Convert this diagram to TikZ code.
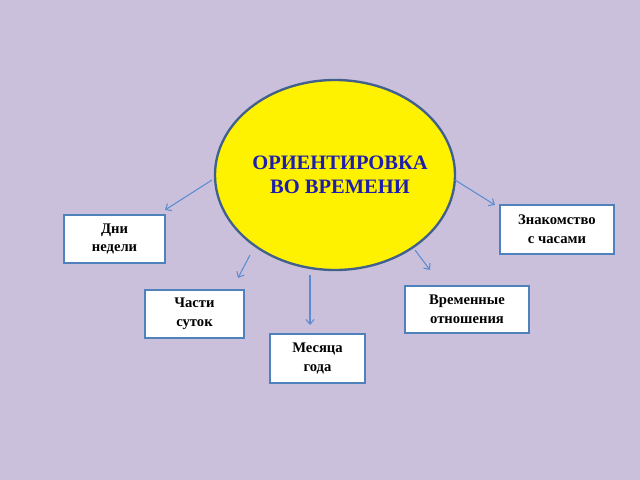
\documentclass[tikz,border=0pt]{standalone}
\usepackage{fontspec}
\setmainfont{Liberation Serif}
\usetikzlibrary{shapes.geometric,arrows.meta}
\definecolor{bg}{RGB}{203,192,220}
\definecolor{ring}{RGB}{65,97,140}
\definecolor{boxb}{RGB}{79,129,189}
\definecolor{arr}{RGB}{91,139,208}
\definecolor{ttl}{RGB}{30,30,170}
\begin{document}
\begin{tikzpicture}[x=0.03cm,y=-0.03cm,
  box/.style={draw=boxb,line width=1.5pt,fill=white,align=center,font=\bfseries\fontsize{12.5}{16}\selectfont,inner sep=0pt},
  conn/.style={draw=arr,line width=0.9pt,-{Straight Barb[length=4pt,width=7pt]}}]
\fill[bg] (0,0) rectangle (640,480);
\useasboundingbox (0,0) rectangle (640,480);
\node[ellipse,draw=ring,line width=2pt,fill=yellow,minimum width=0.03cm*240,minimum height=0.03cm*190,inner sep=0pt] (ell) at (335,175) {};
\node[align=center,text=ttl,font=\bfseries\fontsize{17.5}{21}\selectfont] (t) at (340,175) {ОРИЕНТИРОВКА\\ВО ВРЕМЕНИ};
\node[box,minimum width=0.03cm*101,minimum height=0.03cm*48] (dni) at (114.5,239) {Дни\\недели};
\node[box,minimum width=0.03cm*114,minimum height=0.03cm*49] (zn) at (557,229.5) {Знакомство\\с часами};
\node[box,minimum width=0.03cm*99,minimum height=0.03cm*48] (ch) at (194.5,314) {Части\\суток};
\node[box,minimum width=0.03cm*124,minimum height=0.03cm*47] (vr) at (467,309.5) {Временные\\отношения};
\node[box,minimum width=0.03cm*95,minimum height=0.03cm*49] (mes) at (317.5,358.5) {Месяца\\года};
\coordinate (s1) at (212,180);
\coordinate (s2) at (455,180);
\coordinate (s3) at (250,255);
\coordinate (s4) at (310,275);
\coordinate (s5) at (415,250);
\coordinate (e1) at (165,210);
\coordinate (e2) at (495,205);
\coordinate (e3) at (238,278);
\coordinate (e4) at (310,325);
\coordinate (e5) at (430,270);
\draw[conn] (s1) -- (e1);
\draw[conn] (s2) -- (e2);
\draw[conn] (s3) -- (e3);
\draw[conn] (s4) -- (e4);
\draw[conn] (s5) -- (e5);
\end{tikzpicture}
\end{document}
